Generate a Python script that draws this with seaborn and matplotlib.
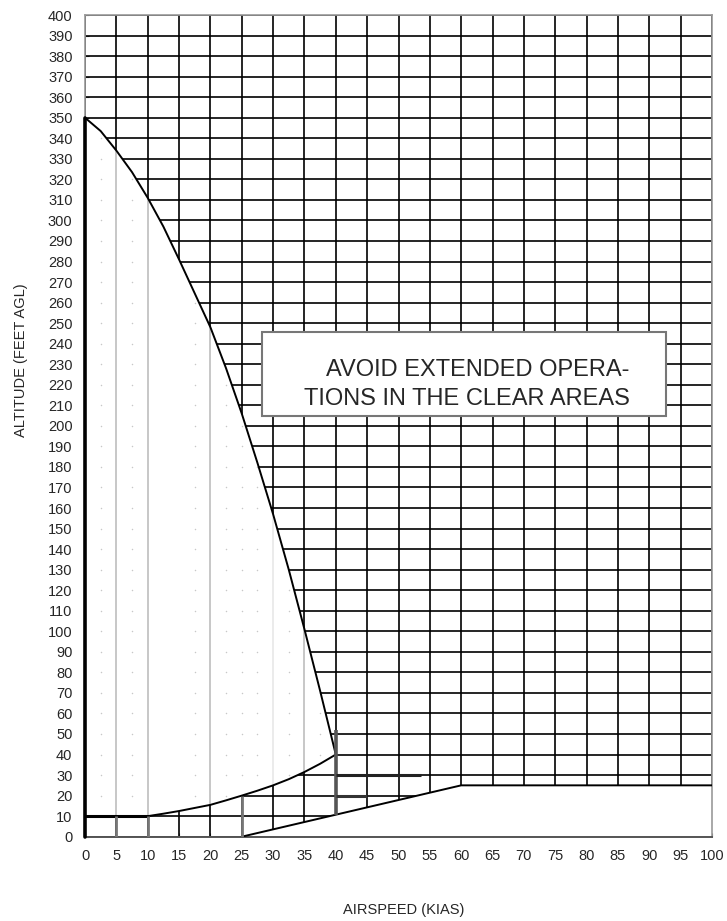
import numpy as np
import pandas as pd
import matplotlib
matplotlib.use('Agg')
import matplotlib.pyplot as plt
from matplotlib.patches import Polygon, Rectangle
import seaborn as sns

# data
upper_kias = [0, 2.5, 5, 7.5, 10, 12.5, 15, 17.5, 20, 22.5, 25, 27.5, 30, 32.5, 35, 37.5, 40]
upper_ft = [350, 343.5, 334, 323.5, 311, 297, 281, 264.5, 248, 228, 206, 182, 157, 130, 101, 71, 40]
lower_kias = [0, 10, 12.5, 15, 17.5, 20, 22.5, 25, 27.5, 30, 32.5, 35, 37.5, 40]
lower_ft = [10, 10, 11.2, 12.5, 14, 15.5, 17.7, 20, 22.4, 25, 28, 31.5, 35.5, 40]
low_kias = [25, 60, 100]
low_ft = [0, 25, 25]
x_ticks = list(range(0, 101, 5))
y_ticks = list(range(0, 401, 10))
clear_lines = [5, 10, 20, 35]
light_lines = [30]
dot_kias = [2.5, 7.5, 17.5, 22.5, 25, 27.5, 32.5, 37.5]
dot_ft = list(range(10, 351, 10))
note_lines = ['AVOID EXTENDED OPERA-', 'TIONS IN THE CLEAR AREAS']

sns.set_theme(style='white')
plt.rcParams['font.family'] = ['Liberation Sans', 'DejaVu Sans']

fig = plt.figure(figsize=(7.27, 9.21), dpi=100)
ax = fig.add_axes([85/727, 84.3/921, 627/727, 821.7/921])
ax.set_xlim(0, 100)
ax.set_ylim(0, 400)

# full black grid first, clear areas get painted over it
ax.vlines(x_ticks, 0, 400, color='black', lw=1.2, zorder=1)
ax.hlines(y_ticks, 0, 100, color='black', lw=1.2, zorder=1)

# clear area A (between curves) and B (low and fast)
poly_a = list(zip(upper_kias, upper_ft)) + list(zip(lower_kias[::-1], lower_ft[::-1]))
poly_b = list(zip(low_kias, low_ft)) + [(100, 0)]
ax.add_patch(Polygon(poly_a, closed=True, fc='white', ec='none', zorder=2))
ax.add_patch(Polygon(poly_b, closed=True, fc='white', ec='none', zorder=2))

clip_a = Polygon(poly_a, closed=True, transform=ax.transData)
g1 = ax.vlines(clear_lines, 0, 400, color='#bdbdbd', lw=1.2, zorder=3)
g1.set_clip_path(clip_a)
g2 = ax.vlines(light_lines, 0, 400, color='#e8e8e8', lw=1.2, zorder=3)
g2.set_clip_path(clip_a)
dx, dy = np.meshgrid(dot_kias, dot_ft)
dots = ax.scatter(dx.ravel(), dy.ravel(), s=1.2, color='#c8c8c8', lw=0, zorder=3)
dots.set_clip_path(clip_a)

# boundary curves
sns.lineplot(x=upper_kias, y=upper_ft, color='black', lw=1.4, sort=False, ax=ax, zorder=5)
sns.lineplot(x=lower_kias[1:], y=lower_ft[1:], color='black', lw=1.4, sort=False, ax=ax, zorder=5)
sns.lineplot(x=low_kias, y=low_ft, color='black', lw=1.4, sort=False, ax=ax, zorder=5)

# heavier marks
ax.plot([0, 0], [0, 350], color='black', lw=2.6, zorder=6, clip_on=False)
ax.plot([0, 10], [10, 10], color='black', lw=2.2, zorder=6)
ax.vlines([5, 10], 0, 10, color='#777777', lw=2, zorder=6)
ax.vlines([25], 0, 20, color='#777777', lw=2, zorder=6)
ax.vlines([40], 10.7, 52, color='#555555', lw=2.6, zorder=6)
ax.hlines([30], 40, 53.6, color='#222222', lw=2.2, zorder=6)
ax.hlines([20], 40, 45, color='#333333', lw=2.2, zorder=6)

# note box
ax.add_patch(Rectangle((28.2, 205), 64.5, 40.7, fc='white', ec='#777777', lw=1.5, zorder=7))
ax.text(86.9, 224.3, note_lines[0], ha='right', va='baseline', fontsize=17, zorder=8)
ax.text(86.9, 210.2, note_lines[1], ha='right', va='baseline', fontsize=17, zorder=8)

ax.set_xticks(x_ticks)
ax.set_yticks(y_ticks)
ax.tick_params(direction='in', length=3, width=0.8, color='#555555', labelsize=10.5, pad=9,
               bottom=True, left=True)
for s in ['top', 'right', 'left']:
    ax.spines[s].set_color('#999999')
    ax.spines[s].set_linewidth(1.2)
ax.spines['bottom'].set_color('#555555')
ax.spines['bottom'].set_linewidth(1.4)

fig.text(404/727, 1 - 910/921, 'AIRSPEED (KIAS)', ha='center', va='center', fontsize=10.5)
fig.text(21/727, 1 - 360/921, 'ALTITUDE (FEET AGL)', ha='center', va='center',
         rotation=90, fontsize=10.5)

fig.savefig('out.png', dpi=100)
